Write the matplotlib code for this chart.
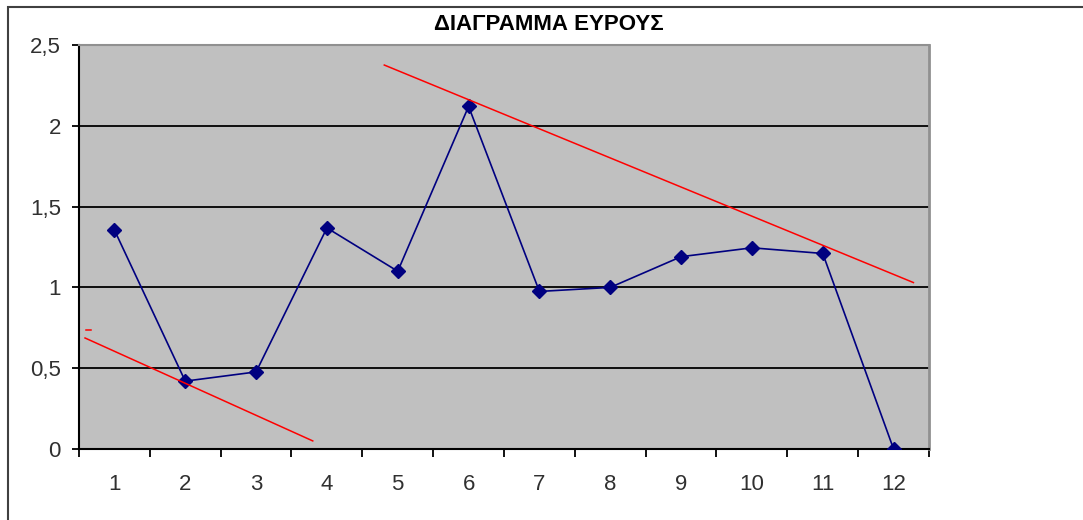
import matplotlib.pyplot as plt
from matplotlib.patches import Rectangle
from matplotlib.ticker import FixedLocator, FuncFormatter

plt.rcParams["font.family"] = ["Liberation Sans", "DejaVu Sans"]

# chart data
categories = list(range(1, 13))
values = [1.355, 0.42, 0.477, 1.368, 1.10, 2.12, 0.975, 1.0, 1.19, 1.245, 1.21, 0.0]
y_ticks = [0, 0.5, 1, 1.5, 2, 2.5]

# hand-drawn trend lines (data coords)
trend_low_x = [0.585, 3.80]
trend_low_y = [0.687, 0.05]
trend_low_dash_x = [0.60, 0.67]
trend_low_dash_y = [0.735, 0.735]
trend_high_x = [4.81, 12.28]
trend_high_y = [2.376, 1.03]

fig = plt.figure(figsize=(10.83, 5.2), dpi=100)
fig.patches.append(Rectangle((8 / 1083, -0.1), 1.2, (520 - 7) / 520 + 0.1,
                             transform=fig.transFigure, fill=False,
                             edgecolor="#404040", linewidth=1.5))

ax = fig.add_axes([79 / 1083, 71 / 520, 850 / 1083, 404 / 520])
ax.set_facecolor("#c0c0c0")
ax.set_xlim(0.5, 12.5)
ax.set_ylim(0, 2.5)

for y in y_ticks[1:-1]:
    ax.axhline(y, color="black", linewidth=1.3, zorder=1)

ax.plot(categories, values, color="#000080", linewidth=1.2,
        marker="D", markersize=7, zorder=3)

ax.plot(trend_low_x, trend_low_y, color="red", linewidth=1.1, clip_on=False, zorder=4)
ax.plot(trend_low_dash_x, trend_low_dash_y, color="red", linewidth=1.1, clip_on=False, zorder=4)
ax.plot(trend_high_x, trend_high_y, color="red", linewidth=1.1, clip_on=False, zorder=4)

ax.yaxis.set_major_locator(FixedLocator(y_ticks))
ax.yaxis.set_major_formatter(FuncFormatter(lambda v, p: f"{v:g}".replace(".", ",")))
ax.xaxis.set_major_locator(FixedLocator(categories))
ax.xaxis.set_minor_locator(FixedLocator([c + 0.5 for c in [0] + categories]))
ax.tick_params(axis="x", which="major", length=0, pad=18, labelsize=16, labelcolor="#303030")
ax.tick_params(axis="x", which="minor", length=6, width=1.3, direction="out")
ax.tick_params(axis="y", length=5, width=1.3, pad=8, labelsize=16, labelcolor="#303030")

ax.spines["left"].set_linewidth(1.5)
ax.spines["bottom"].set_linewidth(1.5)
ax.spines["top"].set_color("#909090")
ax.spines["right"].set_color("#909090")
ax.spines["top"].set_linewidth(1.5)
ax.spines["right"].set_linewidth(2)

fig.text(549 / 1083, 1 - 25 / 520, "ΔΙΑΓΡΑΜΜΑ ΕΥΡΟΥΣ", ha="center", va="center",
         fontsize=16, fontweight="bold")

fig.savefig("out.png", dpi=100)
